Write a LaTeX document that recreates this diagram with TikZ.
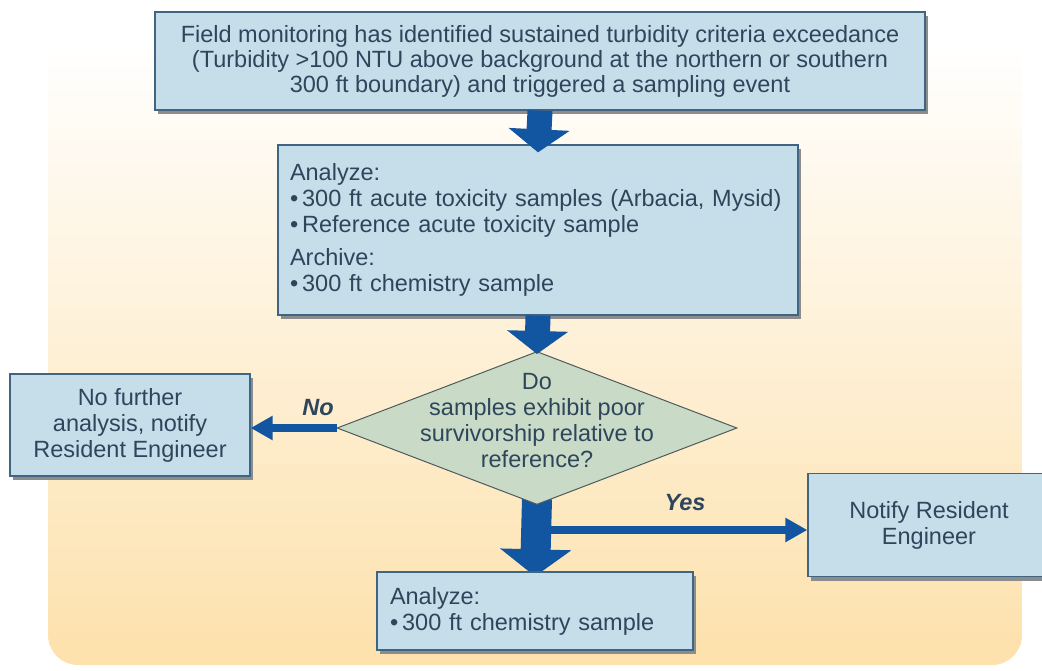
\documentclass[tikz,border=0pt]{standalone}
\usepackage{fontspec}
\setmainfont{Liberation Sans}
\usetikzlibrary{arrows.meta, shapes.geometric, shadows, calc}
\definecolor{boxfill}{HTML}{C6DDEA}
\definecolor{boxline}{HTML}{3F6582}
\definecolor{decfill}{HTML}{C9DBC6}
\definecolor{decline}{HTML}{4D5B5E}
\definecolor{arrowblue}{HTML}{1255A0}
\definecolor{txtcol}{HTML}{2E465C}
\definecolor{panel}{HTML}{FDE2AE}
\tikzset{>=Triangle}
\tikzset{box/.style = {draw=boxline, line width=1.3pt, fill=boxfill, text=txtcol,
    font=\fontsize{23.5}{26}\selectfont, inner sep=6pt,
    drop shadow={shadow xshift=3pt, shadow yshift=-4pt, fill=black!45, opacity=1}}}
\tikzset{dec/.style = {diamond, draw=decline, line width=1pt, fill=decfill, inner sep=0pt,
    minimum width=400pt, minimum height=153pt}}
\tikzset{txt/.style = {text=txtcol, font=\fontsize{23.5}{26}\selectfont, align=center}}
\tikzset{lbl/.style = {text=txtcol, font=\fontsize{23.5}{26}\selectfont\bfseries\itshape}}
\tikzset{fat arrow/.style = {arrowblue, line width=#1}}
\pgfdeclarelayer{back}
\pgfsetlayers{back,main}

\begin{document}
\begin{tikzpicture}[x=1pt, y=-1pt]
		\useasboundingbox (0,0) rectangle (1042,670);

		% Panel
		\begin{pgfonlayer}{back}
			\begin{scope}
				\clip[rounded corners=30pt] (48,-40) rectangle (1022,665);
				\foreach \i in {0,...,59} {
					\pgfmathtruncatemacro\pct{max(0,min(100,(12*\i-74)/6))}
					\fill[panel!\pct!white] (48,{-40+12*\i}) rectangle (1022,{-27.5+12*\i});
				}
			\end{scope}
		\end{pgfonlayer}

		% Boxes
		\node[box, minimum width=770pt, minimum height=98pt, align=center, font=\fontsize{23.5}{25}\selectfont] (trigger) at (540,61)
			{Field monitoring has identified sustained turbidity criteria exceedance\\
			 (Turbidity >100 NTU above background at the northern or southern\\
			 300 ft boundary) and triggered a sampling event};
		\node[box, minimum width=520pt, minimum height=170pt, text width=496pt, align=left] (analyze) at (538,230)
			{Analyze:\\
			 \textbullet\,300 ft acute toxicity samples (Arbacia, Mysid)\\
			 \textbullet\,Reference acute toxicity sample\\[7pt]
			 Archive:\\
			 \textbullet\,300 ft chemistry sample};
		\node[box, minimum width=240pt, minimum height=102pt, align=center] (nofurther) at (130,425)
			{No further\\analysis, notify\\Resident Engineer};
		\node[box, minimum width=242pt, minimum height=103pt, align=center] (notify) at (929,525)
			{Notify Resident\\Engineer};
		\node[box, minimum width=316pt, minimum height=78pt, text width=290pt, align=left] (chem) at (535,611)
			{Analyze:\\\textbullet\,300 ft chemistry sample};

		% Decision
		\node[dec] (decide) at (537,428) {};
		\node[txt] (decidetext) at (537,421) {Do\\samples exhibit poor\\survivorship relative to\\reference?};

		% Arrows
		\draw[fat arrow=25pt, -{Triangle[width=60pt, length=23pt]}] (trigger.south) -- ([yshift=-8pt]analyze.north);
		\draw[fat arrow=25pt, -{Triangle[width=60pt, length=23pt]}] (analyze.south) -- ([yshift=-3pt]decide.north);
		\begin{pgfonlayer}{back}
			\draw[fat arrow=30pt, -{Triangle[width=70pt, length=27pt]}] ([yshift=6pt]decide.south) -- ([yshift=-5pt]chem.north);
		\end{pgfonlayer}
		\draw[fat arrow=8pt, -{Triangle[width=23pt, length=22pt]}] (decide.west) -- (decide.west -| nofurther.east);
		\coordinate (fork) at (537,530);
		\draw[fat arrow=8pt, -{Triangle[width=23pt, length=22pt]}] (fork) -- (fork -| notify.west);

		% Labels
		\node[lbl] (nolbl) at (318,408) {No};
		\node[lbl] (yeslbl) at (685,503) {Yes};
	\end{tikzpicture}
\end{document}
